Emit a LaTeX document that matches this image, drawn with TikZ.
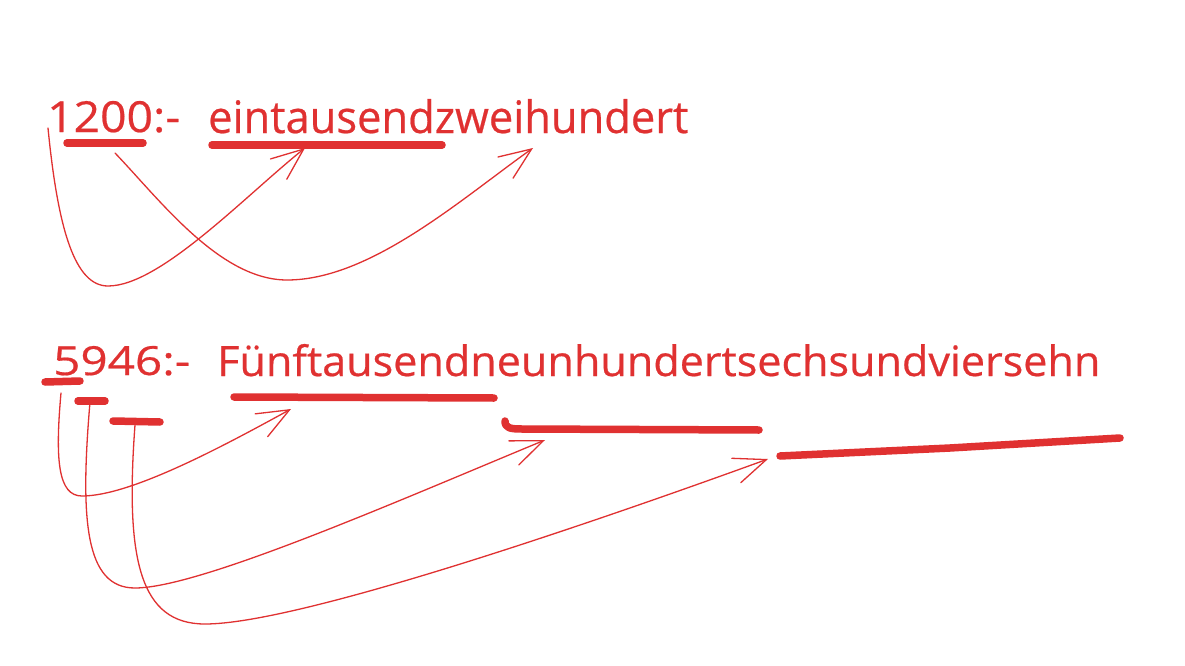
\documentclass[tikz,border=0pt]{standalone}
\usepackage{fontspec}
\newfontfamily\handfont{Open Sans}[FakeBold=0.5]
\usetikzlibrary{arrows.meta}
\definecolor{exred}{HTML}{E03131}
\begin{document}
\begin{tikzpicture}[x=1pt,y=-1pt,
  txt/.style={inner sep=0pt, anchor=base west, text=exred, font=\handfont},
  uline/.style={draw=exred, line width=7.5pt, line cap=round, line join=round},
  conn/.style={draw=exred, line width=1.3pt, line cap=round,
    -{Straight Barb[length=32pt,width=26pt,line cap=round]}}]
\useasboundingbox[fill=white] (0,0) rectangle (1185,666);

% texts
\node[txt] (n1) at (47,132) {\resizebox{133pt}{31pt}{1200:-}};
\node[txt] (w1) at (208,133) {\resizebox{480pt}{34pt}{eintausendzweihundert}};
\node[txt] (n2) at (53,375) {\resizebox{137pt}{29pt}{5946:-}};
\node[txt] (w2) at (217,376) {\resizebox{883pt}{32pt}{Fünftausendneunhundertsechsundviersehn}};

% underlines, line 1
\coordinate (u1a) at (67,143);  \coordinate (u1b) at (143,143);
\coordinate (u2a) at (212,145); \coordinate (u2b) at (442,145);
\draw[uline] (u1a) -- (u1b);
\draw[uline] (u2a) -- (u2b);

% underlines, line 2
\coordinate (v1a) at (45,382);  \coordinate (v1b) at (80,381);
\coordinate (v2a) at (78,401);  \coordinate (v2b) at (105,401);
\coordinate (v3a) at (113,421); \coordinate (v3b) at (160,422);
\coordinate (v4a) at (234,397); \coordinate (v4b) at (494,398);
\coordinate (v5a) at (505,421); \coordinate (v5b) at (759,430);
\coordinate (v6a) at (780,456); \coordinate (v6b) at (1120,438);
\draw[uline] (v1a) -- (v1b);
\draw[uline] (v2a) -- (v2b);
\draw[uline] (v3a) -- (v3b);
\draw[uline] (v4a) -- (v4b);
\draw[uline] (v5a) .. controls (505,428) and (510,429) .. (522,429) -- (v5b);
\draw[uline] (v6a) -- (950,448) -- (v6b);

% connectors, line 1
\coordinate (aS) at (48,128);  \coordinate (aB) at (108,286); \coordinate (aT) at (305,148);
\coordinate (bS) at (115,153); \coordinate (bB) at (287,280); \coordinate (bT) at (533,148);
\draw[conn] (aS) .. controls (58,230) and (75,286) .. (aB) .. controls (160,286) and (245,196) .. (aT);
\draw[conn] (bS) .. controls (160,200) and (220,280) .. (bB) .. controls (370,280) and (460,200) .. (bT);

% connectors, line 2
\coordinate (cS) at (61,393);  \coordinate (cB) at (82,496);  \coordinate (cT) at (291,409);
\coordinate (dS) at (90,402);  \coordinate (dB) at (135,588); \coordinate (dT) at (545,440);
\coordinate (eS) at (135,425); \coordinate (eB) at (205,624); \coordinate (eT) at (768,459);
\draw[conn] (cS) .. controls (55,460) and (58,496) .. (cB) .. controls (130,496) and (220,448) .. (cT);
\draw[conn] (dS) .. controls (80,520) and (85,588) .. (dB) .. controls (200,588) and (400,500) .. (dT);
\draw[conn] (eS) .. controls (125,560) and (140,624) .. (eB) .. controls (300,624) and (600,520) .. (eT);
\end{tikzpicture}
\end{document}
